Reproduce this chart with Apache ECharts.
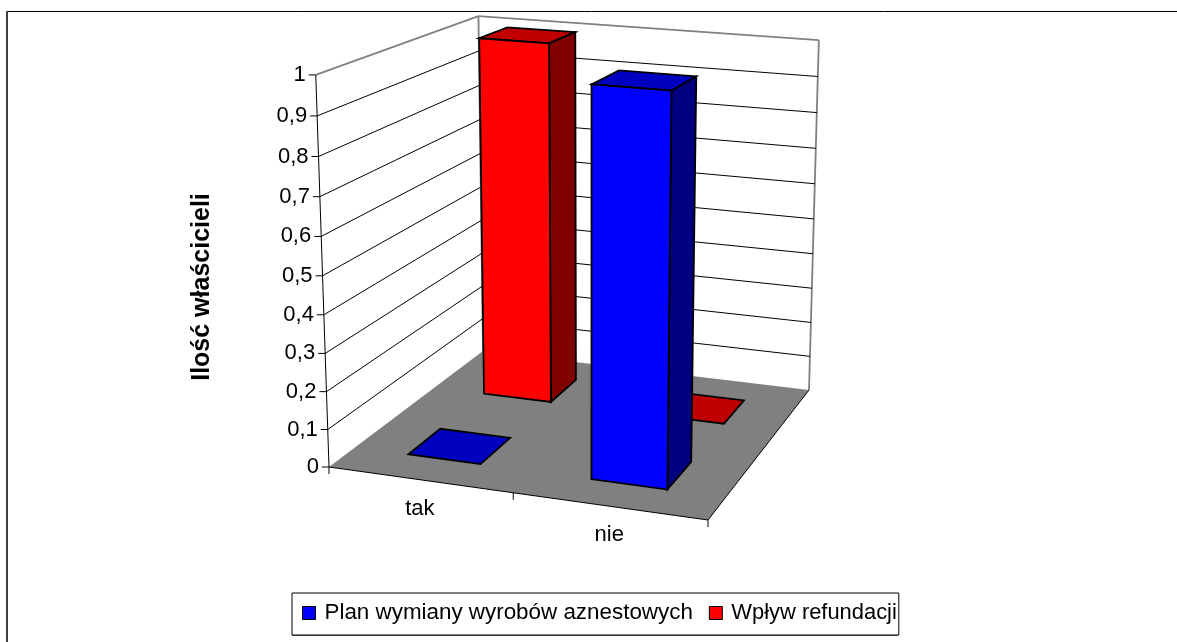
<!DOCTYPE html>
<html><head><meta charset="utf-8">
<style>html,body{margin:0;padding:0;background:#fff}#c{width:1177px;height:642px}</style>
<script src="https://cdn.jsdelivr.net/npm/echarts@6/dist/echarts.min.js"></script>
</head><body><div id="c"></div>
<script>
// ---- data ----
var categories = ['tak', 'nie'];
var planValues = [0, 1];
var wplywValues = [1, 0];
var yTicks = [0, 0.1, 0.2, 0.3, 0.4, 0.5, 0.6, 0.7, 0.8, 0.9, 1];
var yTickLabels = ['0', '0,1', '0,2', '0,3', '0,4', '0,5', '0,6', '0,7', '0,8', '0,9', '1'];
var seriesNames = ['Plan wymiany wyrobów aznestowych', 'Wpływ refundacji'];
var yTitle = 'Ilość właścicieli';

// ---- layout: perspective box calibrated on points ----
var FL = [329, 467], FR = [708, 520], BR = [809, 390], BL = [483, 351];
// calibration at height 1: [x, z, screenX, screenY]
var TOP_POINTS = [
  [0, 0, 315.5, 77], [0, 1, 478.7, 20], [1, 1, 818.7, 38.7],
  [0.65, 0.15, 590.7, 81.7], [0.85, 0.15, 672, 87.3], [0.85, 0.35, 698.3, 73.3],
  [0.15, 0.65, 478.7, 40], [0.35, 0.65, 547.7, 44], [0.35, 0.85, 575.7, 33.3]
];
var GRID = {left: 329, top: 92, width: 379, height: 390};
var FONT = 'Liberation Sans, Arial, sans-serif';
var FS = 22;
var BAR = 0.4;          // bar share of its band (gap width 150 %)
var ROW = {plan: 0.25, wplyw: 0.75}; // depth rows

// floor homography from (x,z) in unit square
var H = (function () {
  var dx1 = FR[0] - BR[0], dx2 = BL[0] - BR[0], sx = FL[0] - FR[0] + BR[0] - BL[0];
  var dy1 = FR[1] - BR[1], dy2 = BL[1] - BR[1], sy = FL[1] - FR[1] + BR[1] - BL[1];
  var den = dx1 * dy2 - dx2 * dy1;
  var g = (sx * dy2 - dx2 * sy) / den, h = (dx1 * sy - sx * dy1) / den;
  return {a: FR[0] - FL[0] + g * FR[0], b: BL[0] - FL[0] + h * BL[0], c: FL[0],
          d: FR[1] - FL[1] + g * FR[1], e: BL[1] - FL[1] + h * BL[1], f: FL[1], g: g, h: h};
})();
// vertical column of the projection: least-squares fit
var V = (function () {
  var rows = TOP_POINTS.map(function (t) {
    var x = t[0], z = t[1], U = t[2], W = t[3];
    var w = H.g * x + H.h * z + 1;
    return {U: U, Y: W, a: U * w - (H.a * x + H.b * z + H.c), b: W * w - (H.d * x + H.e * z + H.f)};
  });
  function mean(k) { return rows.reduce(function (s, o) { return s + o[k]; }, 0) / rows.length; }
  var mU = mean('U'), mY = mean('Y'), ma = mean('a'), mb = mean('b');
  var num = 0, den = 0;
  rows.forEach(function (o) {
    num += (o.a - ma) * (o.U - mU) + (o.b - mb) * (o.Y - mY);
    den += (o.U - mU) * (o.U - mU) + (o.Y - mY) * (o.Y - mY);
  });
  var r = -num / den;
  return {p: ma + r * mU, q: mb + r * mY, r: r};
})();
function proj(x, y, z) {
  var w = H.g * x + H.h * z + 1 + V.r * y;
  return [(H.a * x + H.b * z + H.c + V.p * y) / w, (H.d * x + H.e * z + H.f + V.q * y) / w];
}
function worldX(px) { return (px - GRID.left) / GRID.width; }
function worldY(py) { return (GRID.top + GRID.height - py) / GRID.height; }

function poly(pts, fill, stroke, lw) {
  return {type: 'polygon', shape: {points: pts},
    style: {fill: fill, stroke: stroke || null, lineWidth: lw || 0, lineJoin: 'miter'}};
}
function line(a, b, stroke, lw) {
  return {type: 'line', shape: {x1: a[0], y1: a[1], x2: b[0], y2: b[1]},
    style: {stroke: stroke, lineWidth: lw, fill: null}};
}
function label(x, y, text, align) {
  return {type: 'text', style: {x: x, y: y, text: text, fill: '#000', fontSize: FS, fontFamily: FONT,
    align: align, verticalAlign: 'middle'}};
}

function renderWalls() {
  var fl = proj(0, 0, 0), fr = proj(1, 0, 0), br = proj(1, 0, 1), bl = proj(0, 0, 1);
  var flt = proj(0, 1, 0), blt = proj(0, 1, 1), brt = proj(1, 1, 1);
  return {type: 'group', children: [
    poly([fl, bl, blt, flt], '#fff'),
    poly([bl, br, brt, blt], '#fff'),
    poly([fl, fr, br, bl], '#808080'),
    line(flt, blt, '#808080', 1.8), line(blt, brt, '#808080', 1.8),
    line(blt, bl, '#808080', 1.8), line(brt, br, '#808080', 1.8),
    line(fl, fr, '#000', 1), line(fr, br, '#000', 1),
    line(flt, fl, '#000', 1)
  ]};
}
function renderYTick(params, api) {
  var i = params.dataIndex;
  var y = worldY(api.coord([0, api.value(1)])[1]);
  var a = proj(0, y, 0), b = proj(0, y, 1), c = proj(1, y, 1);
  var kids = [line([a[0] - 7, a[1]], a, '#000', 1), label(a[0] - 10, a[1], yTickLabels[i], 'right')];
  if (i > 0 && i < yTicks.length - 1) { kids.push(line(a, b, '#000', 1), line(b, c, '#000', 1)); }
  return {type: 'group', children: kids};
}
function renderXTick(params, api) {
  var i = params.dataIndex;
  var band = api.size([1, 0])[0];
  var cx = worldX(api.coord([i, 0])[0]);
  var right = worldX(api.coord([i, 0])[0] + band / 2);
  var p = proj(cx, 0, 0), q = proj(right, 0, 0);
  var kids = [label(p[0], p[1] + 29, categories[i], 'center'), line(q, [q[0], q[1] + 7], '#000', 1)];
  if (i === 0) { var l = proj(0, 0, 0); kids.push(line(l, [l[0], l[1] + 7], '#000', 1)); }
  return {type: 'group', children: kids};
}
function barRenderer(zc, front, top, side) {
  return function (params, api) {
    var c = api.coord([api.value(0), api.value(1)]);
    var band = api.size([1, 0])[0];
    var xc = worldX(c[0]), hw = band * BAR / 2 / GRID.width, y = worldY(c[1]);
    var hz = 0.5 * BAR / 2;
    var x0 = xc - hw, x1 = xc + hw, z0 = zc - hz, z1 = zc + hz;
    var kids = [];
    var S = '#000', W = 1.8;
    kids.push(poly([proj(x0, y, z0), proj(x1, y, z0), proj(x1, y, z1), proj(x0, y, z1)], top, S, W));
    if (y > 0) {
      kids.push(poly([proj(x1, 0, z0), proj(x1, 0, z1), proj(x1, y, z1), proj(x1, y, z0)], side, S, W));
      kids.push(poly([proj(x0, 0, z0), proj(x1, 0, z0), proj(x1, y, z0), proj(x0, y, z0)], front, S, W));
    }
    return {type: 'group', children: kids};
  };
}
function pairs(vals) { return vals.map(function (v, i) { return [i, v]; }); }

var chart = echarts.init(document.getElementById('c'), null, {renderer: 'canvas'});
chart.setOption({
  animation: false,
  backgroundColor: '#fff',
  grid: {left: GRID.left, top: GRID.top, width: GRID.width, height: GRID.height},
  xAxis: {type: 'category', data: categories, show: false},
  yAxis: {type: 'value', min: 0, max: 1, interval: 0.1,
    axisLine: {show: false}, axisTick: {show: false}, axisLabel: {show: false}, splitLine: {show: false},
    name: yTitle, nameLocation: 'middle', nameRotate: 90, nameGap: 114,
    nameTextStyle: {color: '#000', fontFamily: FONT, fontSize: 25, fontWeight: 'bold'}},
  legend: {
    data: [
      {name: seriesNames[0], textStyle: {fontSize: 22.4}},
      {name: seriesNames[1], textStyle: {fontSize: 21.9}}
    ],
    left: 292, top: 593, orient: 'horizontal',
    padding: [9, 2, 11, 10], itemGap: 16, itemWidth: 13, itemHeight: 13,
    borderColor: '#000', borderWidth: 1, backgroundColor: '#fff',
    icon: 'rect', selectedMode: false,
    itemStyle: {borderColor: '#000', borderWidth: 1},
    textStyle: {color: '#000', fontFamily: FONT, fontSize: 22, padding: [0, 0, 0, 4]}
  },
  graphic: [
    {type: 'line', shape: {x1: 6, y1: 11.5, x2: 1177, y2: 11.5}, style: {stroke: '#000', lineWidth: 1}},
    {type: 'line', shape: {x1: 7, y1: 11, x2: 7, y2: 642}, style: {stroke: '#404040', lineWidth: 2}},
    {type: 'line', shape: {x1: 292, y1: 635, x2: 898, y2: 635}, style: {stroke: '#666', lineWidth: 2}}
  ],
  series: [
    {type: 'custom', name: 'walls', data: [[0, 0]], renderItem: renderWalls, silent: true, z: 1},
    {type: 'custom', name: 'yTicks', data: yTicks.map(function (t) { return [0, t]; }), renderItem: renderYTick, silent: true, z: 2},
    {type: 'custom', name: 'xTicks', data: categories.map(function (c, i) { return [i, 0]; }), renderItem: renderXTick, silent: true, z: 2},
    {type: 'custom', name: seriesNames[1], data: pairs(wplywValues), encode: {x: 0, y: 1},
      itemStyle: {color: '#ff0000'}, renderItem: barRenderer(ROW.wplyw, '#ff0000', '#c00000', '#800000'), z: 3},
    {type: 'custom', name: seriesNames[0], data: pairs(planValues), encode: {x: 0, y: 1},
      itemStyle: {color: '#0000ff'}, renderItem: barRenderer(ROW.plan, '#0000ff', '#0000c0', '#000080'), z: 4}
  ]
});
</script></body></html>
